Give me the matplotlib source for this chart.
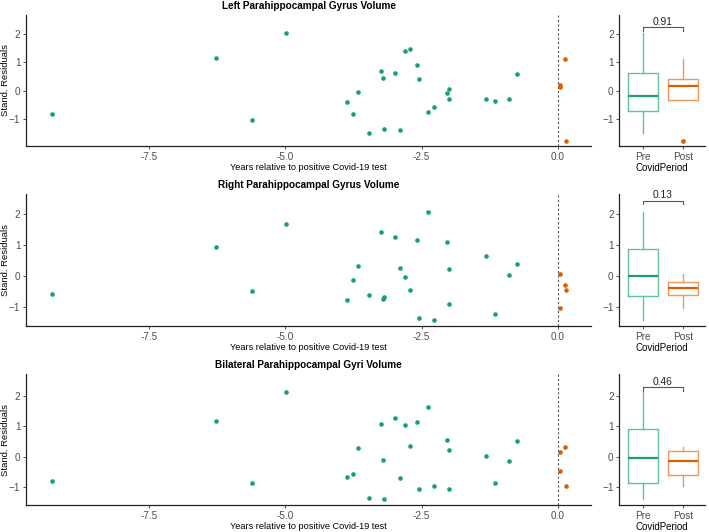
import numpy as np
import matplotlib.pyplot as plt

plt.rcParams['font.family'] = ['Liberation Sans', 'DejaVu Sans']

# years relative to positive covid test (same subjects in every row)
pre_years = [-9.285, -6.28, -5.61, -4.99, -3.86, -3.75, -3.67, -3.47, -3.24, -3.21,
             -3.19, -2.99, -2.90, -2.80, -2.71, -2.59, -2.54, -2.39, -2.28, -2.04,
             -1.99, -1.99, -1.32, -1.15, -0.89, -0.75]
post_years = [0.04, 0.04, 0.13, 0.15]

# standardised residuals
left_pre = [-0.81, 1.14, -1.03, 2.04, -0.39, -0.81, -0.05, -1.49, 0.69, 0.45,
            -1.35, 0.63, -1.39, 1.39, 1.49, 0.90, 0.41, -0.75, -0.55, -0.07,
            0.07, -0.28, -0.30, -0.35, -0.30, 0.59]
left_post = [0.15, 0.19, 1.12, -1.77]

right_pre = [-0.59, 0.94, -0.49, 1.70, -0.80, -0.13, 0.33, -0.63, 1.43, -0.75,
             -0.68, 1.27, 0.24, -0.04, -0.46, 1.17, -1.38, 2.06, -1.43, 1.10,
             0.22, -0.92, 0.64, -1.24, 0.03, 0.39]
right_post = [0.07, -1.05, -0.30, -0.47]

bilat_pre = [-0.80, 1.17, -0.88, 2.12, -0.66, -0.56, 0.29, -1.36, 1.08, -0.12,
             -1.40, 1.28, -0.71, 1.04, 0.34, 1.15, -1.06, 1.62, -0.96, 0.54,
             0.20, -1.06, 0.01, -0.87, -0.13, 0.52]
bilat_post = [0.15, -0.47, 0.30, -0.97]

titles = ['Left Parahippocampal Gyrus Volume',
          'Right Parahippocampal Gyrus Volume',
          'Bilateral Parahippocampal Gyri Volume']
p_values = ['0.91', '0.13', '0.46']
groups = ['Pre', 'Post']

pre_vals = [left_pre, right_pre, bilat_pre]
post_vals = [left_post, right_post, bilat_post]

# layout
W, H = 709, 532
row_px = [(15, 146), (194, 326), (374, 505)]
ylims = [(-1.94, 2.67), (-1.63, 2.66), (-1.59, 2.71)]
bracket_y = [2.24, 2.44, 2.27]
GREEN = '#1B9E77'
ORANGE = '#D95F02'
GREEN_L = '#62BFA2'
ORANGE_L = '#E99A5C'
TICK_COL = '#4D4D4D'

fig = plt.figure(figsize=(W / 100, H / 100), dpi=100)


def style_axes(ax):
    for s in ['top', 'right']:
        ax.spines[s].set_visible(False)
    for s in ['left', 'bottom']:
        ax.spines[s].set_color('#222222')
        ax.spines[s].set_linewidth(0.9)
    ax.tick_params(colors=TICK_COL, labelsize=7.2, length=2.5, width=0.7, pad=1.5)


for i in range(3):
    top, bot = row_px[i]
    b = 1 - bot / H
    h = (bot - top) / H

    # scatter panel
    ax = fig.add_axes([26 / W, b, 565 / W, h])
    ax.scatter(pre_years, pre_vals[i], s=11, color=GREEN, linewidths=0, zorder=3)
    ax.scatter(post_years, post_vals[i], s=11, color=ORANGE, linewidths=0, zorder=3)
    ax.axvline(0, color='#555555', lw=0.8, ls=(0, (2, 2)), zorder=2)
    ax.set_xlim(-9.76, 0.61)
    ax.set_ylim(*ylims[i])
    ax.set_xticks([-7.5, -5.0, -2.5, 0.0])
    ax.set_xticklabels(['-7.5', '-5.0', '-2.5', '0.0'])
    ax.set_yticks([-1, 0, 1, 2])
    style_axes(ax)
    ax.set_title(titles[i], fontsize=7.2, fontweight='bold', pad=4.5)
    ax.set_xlabel('Years relative to positive Covid-19 test', fontsize=6.6, labelpad=1)
    ax.set_ylabel('Stand. Residuals', fontsize=6.8)
    ax.yaxis.set_label_coords(-16 / 565, 0.5)

    # boxplot panel
    bx = fig.add_axes([619.3 / W, b, 85.7 / W, h])
    bp = bx.boxplot([pre_vals[i], post_vals[i]], positions=[1, 2], widths=0.75,
                    showcaps=False, whis=1.5)
    for j, (c, cl) in enumerate([(GREEN, GREEN_L), (ORANGE, ORANGE_L)]):
        bp['boxes'][j].set_color(cl)
        bp['boxes'][j].set_linewidth(1.0)
        for w in bp['whiskers'][2 * j:2 * j + 2]:
            w.set_color(cl)
            w.set_linewidth(1.0)
        bp['medians'][j].set_color(c)
        bp['medians'][j].set_linewidth(1.6)
        bp['fliers'][j].set_marker('o')
        bp['fliers'][j].set_markerfacecolor(c)
        bp['fliers'][j].set_markeredgecolor(c)
        bp['fliers'][j].set_markeredgewidth(0)
        bp['fliers'][j].set_markersize(3.4)
    by = bracket_y[i]
    tick = 0.12
    bx.plot([1, 1, 2, 2], [by - tick, by, by, by - tick], color='#555555', lw=0.8)
    bx.text(1.5, by + 0.02, p_values[i], ha='center', va='bottom', fontsize=7.4,
            color='#222222')
    bx.set_xlim(0.42, 2.55)
    bx.set_ylim(*ylims[i])
    bx.set_xticks([1, 2])
    bx.set_xticklabels(groups)
    bx.set_yticks([-1, 0, 1, 2])
    style_axes(bx)
    bx.set_xlabel('CovidPeriod', fontsize=7, labelpad=1)

fig.savefig('out.png', dpi=100)
